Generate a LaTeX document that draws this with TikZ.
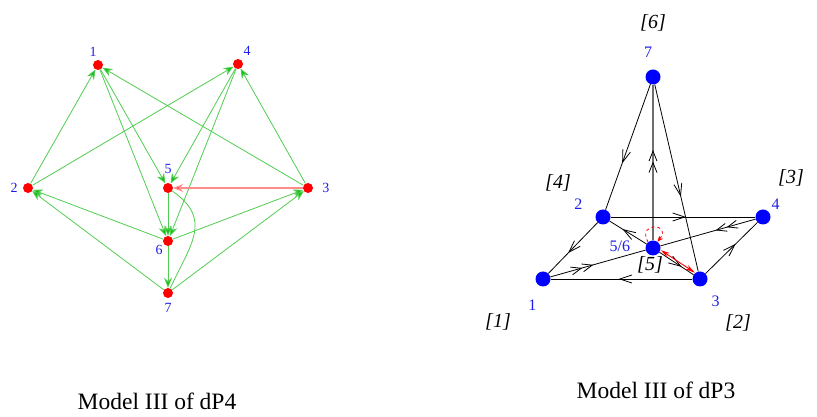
\documentclass[tikz,border=0pt]{standalone}
\usepackage{fontspec}
\setmainfont{Liberation Serif}
\usetikzlibrary{arrows.meta, positioning, decorations.markings}
\definecolor{dotred}{RGB}{255, 0, 0}
\definecolor{dotblue}{RGB}{0, 0, 255}
\definecolor{labelblue}{RGB}{30, 30, 235}
\definecolor{edgegreen}{RGB}{80, 205, 80}
\definecolor{tipgreen}{RGB}{20, 190, 20}
\definecolor{edgepink}{RGB}{255, 140, 140}
\definecolor{stemgray}{RGB}{110, 110, 110}
\tikzset{
  >=Stealth,
  reddot/.style={circle, fill=dotred, inner sep=0pt, minimum size=10pt},
  bluedot/.style={circle, fill=dotblue, inner sep=0pt, minimum size=15pt},
  numlabel/.style={text=labelblue, inner sep=1pt, font=\fontsize{14}{14}\selectfont},
  numlabel_big/.style={text=labelblue, inner sep=1pt, font=\fontsize{16}{16}\selectfont},
  facelabel/.style={inner sep=1pt, font=\fontsize{20}{20}\selectfont\itshape},
  caption/.style={font=\fontsize{23.5}{23.5}\selectfont},
  greenarrow/.style={-{Stealth[length=10pt, width=8pt, fill=tipgreen]}, edgegreen, line width=0.8pt},
  pinkarrow/.style={-{Stealth[length=10pt, width=8pt, fill=dotred]}, edgepink, line width=1.2pt},
  greenline/.style={edgegreen, line width=0.8pt},
  quiver/.style={black, line width=0.8pt},
  stem/.style={stemgray, line width=1.4pt},
  midarrow/.style={postaction={decorate}, decoration={markings,
    mark=at position #1 with {\arrow[black, line width=0.8pt]{Straight Barb[length=12pt, width=8pt]}}}},
  midarrows/.style={postaction={decorate}, decoration={markings,
    mark=at position #1 with {\arrow[black, line width=0.8pt]{Straight Barb[length=10pt, width=8pt] Straight Barb[length=10pt, width=8pt]}}}},
  redpair/.style={red, line width=0.9pt, {Stealth[length=9pt, width=5pt]}-{Stealth[length=10pt, width=5pt]}},
  redloop/.style={red, dashed, line width=0.8pt, -{Stealth[length=6pt, width=5pt]}}
}

\begin{document}
\begin{tikzpicture}[x=1pt, y=1pt]
  \useasboundingbox (0,0) rectangle (817,417);

  % Model III of dP4
  \node (a1) [reddot] at (98,352) {};
  \node (a2) [reddot] at (28,229) {};
  \node (a3) [reddot] at (308,229) {};
  \node (a4) [reddot] at (238,353) {};
  \node (a5) [reddot] at (168,229) {};
  \node (a6) [reddot] at (168,176) {};
  \node (a7) [reddot] at (168,124) {};
  \node (la1) [numlabel, above=2pt of a1, xshift=-5pt] {1};
  \node (la2) [numlabel, left=4pt of a2] {2};
  \node (la3) [numlabel, right=8pt of a3] {3};
  \node (la4) [numlabel, above=2pt of a4, xshift=9pt] {4};
  \node (la5) [numlabel, above=8pt of a5] {5};
  \node (la6) [numlabel, left=-1pt of a6, yshift=-9pt] {6};
  \node (la7) [numlabel, below=4pt of a7] {7};

  \draw[greenarrow] (a2) -- (a1);
  \draw[greenarrow] (a2) -- (a4);
  \draw[greenarrow] (a3) -- (a1);
  \draw[greenarrow] (a3) -- (a4);
  \draw[greenarrow] (a1) -- (a5);
  \draw[greenarrow] (a1) -- (a6);
  \draw[greenarrow] (a4) -- (a5);
  \draw[greenarrow] (a4) -- (a6);
  \draw[greenarrow] (a5) -- (a6);
  \draw[greenarrow] (a6) -- (a2);
  \draw[greenarrow] (a6) -- (a3);
  \draw[greenarrow] (a6) -- (a7);
  \draw[greenarrow] (a7) -- (a2);
  \draw[greenarrow] (a7) -- (a3);
  \draw[pinkarrow] (a3) -- (a5);
  \draw[greenline] (a5) to[out=-35, in=65, looseness=1.3] (a7);

  \node (cap4) [caption] at (157,16) {Model III of dP4};

  % Model III of dP3
  \node (b7) [bluedot] at (653,340) {};
  \node (b2) [bluedot] at (603,200) {};
  \node (b4) [bluedot] at (763,200) {};
  \node (b56) [bluedot] at (653,169) {};
  \node (b1) [bluedot] at (543,138) {};
  \node (b3) [bluedot] at (700,138) {};
  \node (lb7) [numlabel_big, above=11pt of b7, xshift=-5pt] {7};
  \node (lb2) [numlabel_big, above left=1pt and 14pt of b2] {2};
  \node (lb4) [numlabel_big, above right=1pt and 2pt of b4] {4};
  \node (lb56) [numlabel_big, left=14pt of b56, yshift=2pt] {5/6};
  \node (lb1) [numlabel_big, below left=14pt and 0pt of b1] {1};
  \node (lb3) [numlabel_big, below right=10pt and 5pt of b3] {3};
  \node (f6) [facelabel] at (653,394) {[6]};
  \node (f4) [facelabel] at (558,234) {[4]};
  \node (f3) [facelabel] at (791,239) {[3]};
  \node (f5) [facelabel] at (650,152) {[5]};
  \node (f1) [facelabel] at (498,95) {[1]};
  \node (f2) [facelabel] at (738,94) {[2]};

  \draw[quiver, midarrow=0.63] (b7) -- (b2);
  \draw[quiver, midarrow=0.6] (b7) -- (b3);
  \draw[stem, midarrows=0.58] (b56) -- (b7);
  \draw[quiver, midarrow=0.52] (b2) -- (b4);
  \draw[quiver, midarrow=0.6] (b2) -- (b1);
  \draw[quiver, midarrow=0.58] (b3) -- (b4);
  \draw[quiver, midarrow=0.52] (b3) -- (b1);
  \draw[quiver, midarrows=0.45] (b1) -- (b56);
  \draw[quiver, midarrows=0.42] (b4) -- (b56);
  \draw[quiver, midarrow=0.65] (b56) -- (b2);
  \draw[quiver, midarrow=0.65] (b56) -- (b3);
  \draw[redpair, transform canvas={shift={(1.5,2)}}] (b56) -- (b3);
  \draw[redloop] (b56.130) .. controls +(120:24) and +(50:24) .. (b56.55);

  \node (cap3) [caption] at (656,27) {Model III of dP3};
\end{tikzpicture}
\end{document}
